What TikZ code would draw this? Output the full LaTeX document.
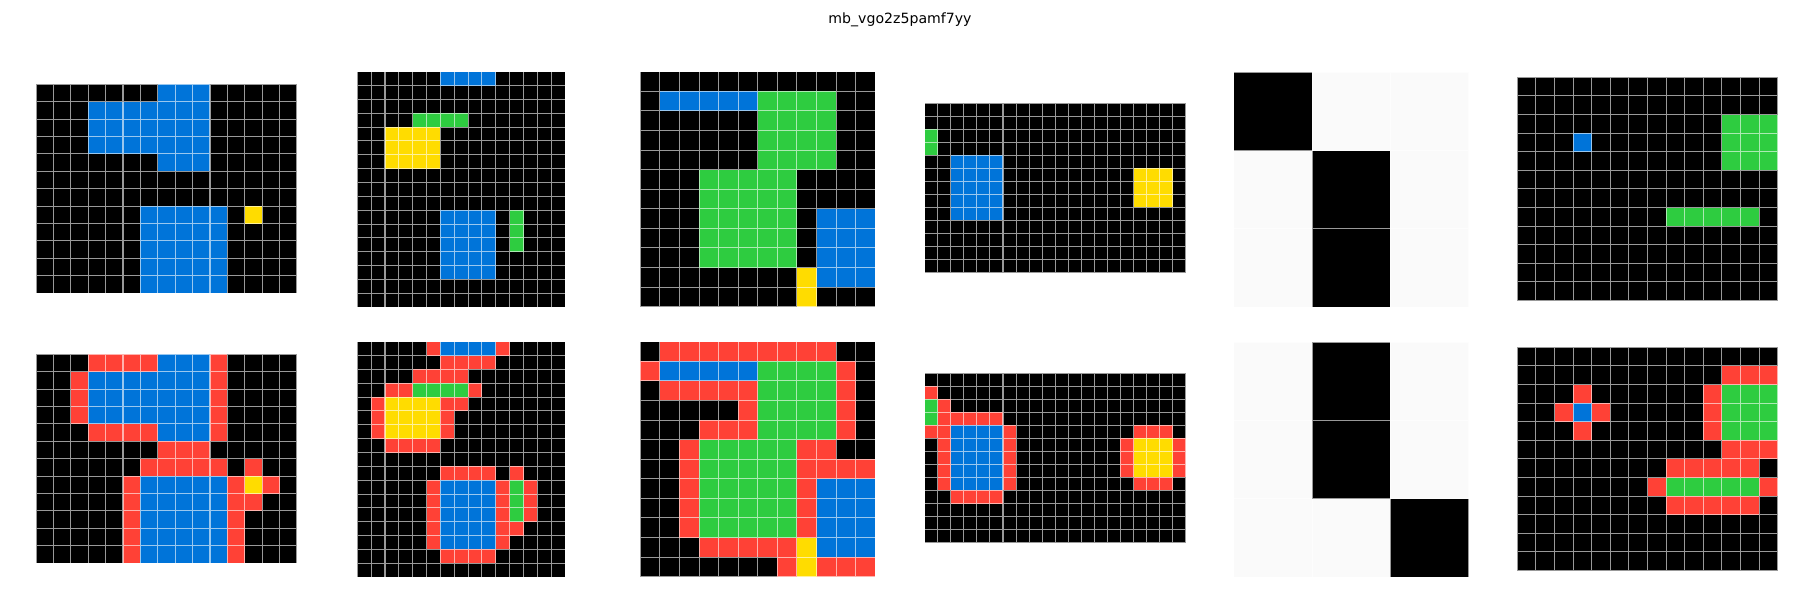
\documentclass[tikz,border=0pt]{standalone}
\usepackage{fontspec}
\setmainfont{DejaVu Sans}
\definecolor{arcblue}{HTML}{0074D9}
\definecolor{arcred}{HTML}{FF4136}
\definecolor{arcgreen}{HTML}{2ECC40}
\definecolor{arcyellow}{HTML}{FFDC00}
\definecolor{arcwhite}{HTML}{FAFAFA}
\tikzset{gl/.style={draw=white, draw opacity=0.6, line width=0.75pt}}
\newcommand{\cb}[5]{\fill[#1] (#2,#3) rectangle (#4+1,#5+1);}
\newcommand{\gridpanel}[7][black]{%
  \begin{scope}[shift={(#2,#3)}, x=#4*0.7227pt, y=-#4*0.7227pt]
    \fill[#1] (0,0) rectangle (#5,#6);
    #7
    \draw[gl] \foreach \i in {0,...,#5} {(\i,0) -- (\i,#6)}
              \foreach \j in {0,...,#6} {(0,\j) -- (#5,\j)};
  \end{scope}}
\begin{document}
\begin{tikzpicture}[x=0.7227pt, y=-0.7227pt]
\useasboundingbox (0,0) rectangle (1800,600);
\fill[white] (0,0) rectangle (1800,600);
\node[font=\fontsize{10.2}{12}\selectfont] (title) at (900,19.5) {mb\_vgo2z5pamf7yy};

% Panel 1
\gridpanel{36}{84.3}{17.4}{15}{12}{%
  \cb{arcblue}{7}{0}{9}{0}
  \cb{arcblue}{3}{1}{9}{3}
  \cb{arcblue}{7}{4}{9}{4}
  \cb{arcblue}{6}{7}{10}{11}
  \cb{arcyellow}{12}{7}{12}{7}}
\gridpanel{36}{354.3}{17.4}{15}{12}{%
  \cb{arcred}{3}{0}{6}{0} \cb{arcblue}{7}{0}{9}{0} \cb{arcred}{10}{0}{10}{0}
  \cb{arcred}{2}{1}{2}{3} \cb{arcblue}{3}{1}{9}{3} \cb{arcred}{10}{1}{10}{4}
  \cb{arcred}{3}{4}{6}{4} \cb{arcblue}{7}{4}{9}{4}
  \cb{arcred}{7}{5}{9}{5}
  \cb{arcred}{6}{6}{10}{6} \cb{arcred}{12}{6}{12}{6}
  \cb{arcred}{5}{7}{5}{11} \cb{arcblue}{6}{7}{10}{11} \cb{arcred}{11}{7}{11}{11}
  \cb{arcyellow}{12}{7}{12}{7} \cb{arcred}{13}{7}{13}{7} \cb{arcred}{12}{8}{12}{8}}

% Panel 2
\gridpanel{357.3}{71.7}{13.85}{15}{17}{%
  \cb{arcblue}{6}{0}{9}{0}
  \cb{arcgreen}{4}{3}{7}{3}
  \cb{arcyellow}{2}{4}{5}{6}
  \cb{arcblue}{6}{10}{9}{14}
  \cb{arcgreen}{11}{10}{11}{12}}
\gridpanel{357.3}{341.7}{13.85}{15}{17}{%
  \cb{arcred}{5}{0}{5}{0} \cb{arcblue}{6}{0}{9}{0} \cb{arcred}{10}{0}{10}{0}
  \cb{arcred}{6}{1}{9}{1}
  \cb{arcred}{4}{2}{7}{2}
  \cb{arcred}{2}{3}{3}{3} \cb{arcgreen}{4}{3}{7}{3} \cb{arcred}{8}{3}{8}{3}
  \cb{arcred}{1}{4}{1}{6} \cb{arcyellow}{2}{4}{5}{6} \cb{arcred}{6}{4}{7}{4} \cb{arcred}{6}{5}{6}{6}
  \cb{arcred}{2}{7}{5}{7}
  \cb{arcred}{6}{9}{9}{9} \cb{arcred}{11}{9}{11}{9}
  \cb{arcred}{5}{10}{5}{14} \cb{arcblue}{6}{10}{9}{14} \cb{arcred}{10}{10}{10}{14}
  \cb{arcgreen}{11}{10}{11}{12} \cb{arcred}{12}{10}{12}{12} \cb{arcred}{11}{13}{11}{13}
  \cb{arcred}{6}{15}{9}{15}}

% Panel 3
\gridpanel{640.3}{71.7}{19.58}{12}{12}{%
  \cb{arcblue}{1}{1}{5}{1} \cb{arcgreen}{6}{1}{9}{4}
  \cb{arcgreen}{3}{5}{7}{9}
  \cb{arcblue}{9}{7}{11}{10}
  \cb{arcyellow}{8}{10}{8}{11}}
\gridpanel{640.3}{341.7}{19.58}{12}{12}{%
  \cb{arcred}{1}{0}{9}{0}
  \cb{arcred}{0}{1}{0}{1} \cb{arcblue}{1}{1}{5}{1} \cb{arcgreen}{6}{1}{9}{4} \cb{arcred}{10}{1}{10}{4}
  \cb{arcred}{1}{2}{5}{2}
  \cb{arcred}{5}{3}{5}{3}
  \cb{arcred}{3}{4}{5}{4}
  \cb{arcred}{2}{5}{2}{9} \cb{arcgreen}{3}{5}{7}{9} \cb{arcred}{8}{5}{9}{5}
  \cb{arcred}{8}{6}{11}{6}
  \cb{arcred}{8}{7}{8}{9} \cb{arcblue}{9}{7}{11}{10}
  \cb{arcred}{3}{10}{7}{10} \cb{arcyellow}{8}{10}{8}{11}
  \cb{arcred}{7}{11}{7}{11} \cb{arcred}{9}{11}{11}{11}}

% Panel 4
\gridpanel{924.7}{103}{13.05}{20}{13}{%
  \cb{arcgreen}{0}{2}{0}{3}
  \cb{arcblue}{2}{4}{5}{8}
  \cb{arcyellow}{16}{5}{18}{7}}
\gridpanel{924.7}{373}{13.05}{20}{13}{%
  \cb{arcred}{0}{1}{0}{1}
  \cb{arcgreen}{0}{2}{0}{3} \cb{arcred}{1}{2}{1}{2}
  \cb{arcred}{1}{3}{5}{3}
  \cb{arcred}{0}{4}{1}{4}
  \cb{arcred}{1}{5}{1}{8}
  \cb{arcblue}{2}{4}{5}{8} \cb{arcred}{6}{4}{6}{8}
  \cb{arcred}{2}{9}{5}{9}
  \cb{arcred}{16}{4}{18}{4} \cb{arcred}{15}{5}{15}{7} \cb{arcyellow}{16}{5}{18}{7}
  \cb{arcred}{19}{5}{19}{7} \cb{arcred}{16}{8}{18}{8}}

% Panel 5
\gridpanel[arcwhite]{1233.7}{72.3}{78.33}{3}{3}{%
  \cb{black}{0}{0}{0}{0} \cb{black}{1}{1}{1}{2}}
\gridpanel[arcwhite]{1233.7}{342.3}{78.33}{3}{3}{%
  \cb{black}{1}{0}{1}{1} \cb{black}{2}{2}{2}{2}}

% Panel 6
\gridpanel{1517.3}{77.3}{18.6}{14}{12}{%
  \cb{arcblue}{3}{3}{3}{3}
  \cb{arcgreen}{11}{2}{13}{4}
  \cb{arcgreen}{8}{7}{12}{7}}
\gridpanel{1517.3}{347.3}{18.6}{14}{12}{%
  \cb{arcred}{11}{1}{13}{1}
  \cb{arcred}{3}{2}{3}{2} \cb{arcred}{2}{3}{2}{3} \cb{arcblue}{3}{3}{3}{3}
  \cb{arcred}{4}{3}{4}{3} \cb{arcred}{3}{4}{3}{4}
  \cb{arcred}{10}{2}{10}{4} \cb{arcgreen}{11}{2}{13}{4}
  \cb{arcred}{11}{5}{13}{5}
  \cb{arcred}{8}{6}{12}{6}
  \cb{arcred}{7}{7}{7}{7} \cb{arcgreen}{8}{7}{12}{7} \cb{arcred}{13}{7}{13}{7}
  \cb{arcred}{8}{8}{12}{8}}
\end{tikzpicture}
\end{document}
